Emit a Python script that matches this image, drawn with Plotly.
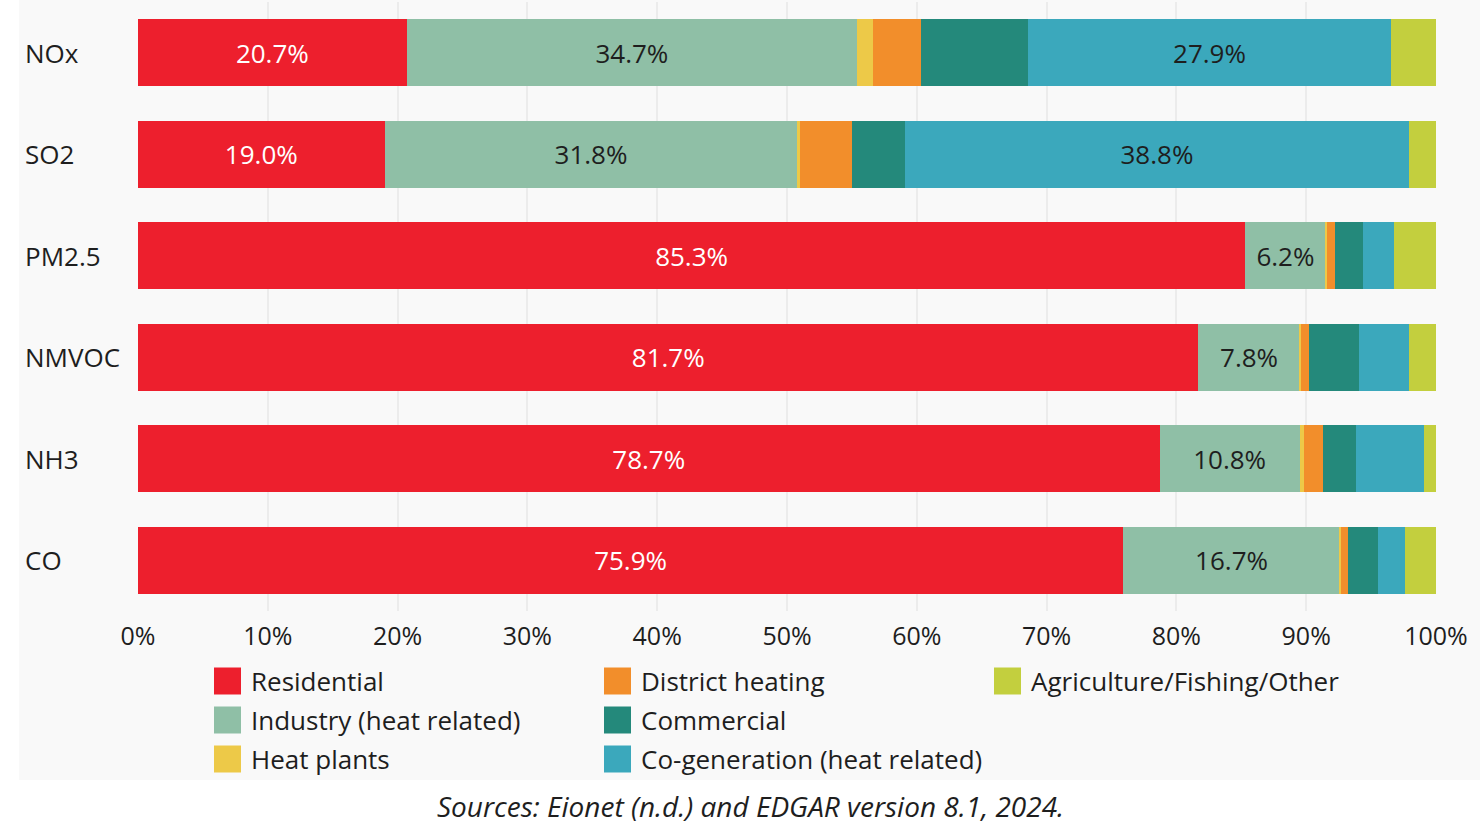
import plotly.graph_objects as go

# ---------------- data ----------------
pollutants = ["NOx", "SO2", "PM2.5", "NMVOC", "NH3", "CO"]
sectors = ["Residential", "Industry (heat related)", "Heat plants",
           "District heating", "Commercial", "Co-generation (heat related)",
           "Agriculture/Fishing/Other"]

residential = [20.7, 19.0, 85.3, 81.7, 78.7, 75.9]
industry = [34.7, 31.8, 6.2, 7.8, 10.8, 16.7]
heat_plants = [1.2, 0.2, 0.1, 0.1, 0.3, 0.1]
district_heating = [3.7, 4.0, 0.6, 0.6, 1.5, 0.5]
commercial = [8.3, 4.1, 2.2, 3.9, 2.5, 2.3]
cogeneration = [27.9, 38.8, 2.4, 3.8, 5.3, 2.1]
agriculture = [3.5, 2.1, 3.2, 2.1, 0.9, 2.4]

residential_labels = ["20.7%", "19.0%", "85.3%", "81.7%", "78.7%", "75.9%"]
industry_labels = ["34.7%", "31.8%", "6.2%", "7.8%", "10.8%", "16.7%"]
cogeneration_labels = ["27.9%", "38.8%", "", "", "", ""]

tick_vals = [0, 10, 20, 30, 40, 50, 60, 70, 80, 90, 100]
tick_text = ["0%", "10%", "20%", "30%", "40%", "50%", "60%", "70%", "80%", "90%", "100%"]

source_text = "Sources: Eionet (n.d.) and EDGAR version 8.1, 2024."

# ---------------- style ----------------
colors = ["#ED1F2D", "#8FBFA6", "#EDC948", "#F28E2B", "#24897B", "#3BA8BC", "#C3CF3E"]
label_colors = ["white", "#1e1e1e", "#1e1e1e", "#1e1e1e", "#1e1e1e", "#1e1e1e", "#1e1e1e"]
FONT = "Open Sans, Noto Sans, sans-serif"
TXT = "#1e1e1e"

W, H = 1483, 839
L, R = 138, 1436          # plot area x pixels
T, B = 2, 611             # plot area y pixels


def px(x):
    return (x - L) / (R - L)


def py(y):
    return (B - y) / (B - T)


values = [residential, industry, heat_plants, district_heating,
          commercial, cogeneration, agriculture]
texts = [residential_labels, industry_labels, None, None, None,
         cogeneration_labels, None]

fig = go.Figure()
for name, vals, col, txt, tcol in zip(sectors, values, colors, texts, label_colors):
    fig.add_trace(go.Bar(
        y=pollutants, x=vals, name=name, orientation="h",
        marker=dict(color=col, line=dict(width=0)),
        text=txt if txt is not None else None,
        texttemplate="%{text}" if txt is not None else None,
        textposition="inside" if txt is not None else "none",
        insidetextanchor="middle",
        textangle=0,
        textfont=dict(family=FONT, size=26, color=tcol),
        showlegend=False,
        hoverinfo="skip",
    ))

shapes = []
annotations = []

# light panel background
shapes.append(dict(type="rect", xref="paper", yref="paper",
                   x0=px(19), x1=px(1480), y0=py(780), y1=py(0),
                   fillcolor="#f9f9f9", line=dict(width=0), layer="below"))

# category labels
for p in pollutants:
    annotations.append(dict(x=px(23), y=p, xref="paper", yref="y",
                            text=p, showarrow=False, xanchor="left",
                            yanchor="middle",
                            font=dict(family=FONT, size=26, color=TXT)))

# legend (3 columns, column-major)
col_x = [214, 604, 994]
row_y = [681, 720, 759]
for i, (name, col) in enumerate(zip(sectors, colors)):
    c, r = divmod(i, 3)
    x0 = col_x[c]
    yc = row_y[r]
    shapes.append(dict(type="rect", xref="paper", yref="paper",
                       x0=px(x0), x1=px(x0 + 27), y0=py(yc + 13.5), y1=py(yc - 13.5),
                       fillcolor=col, line=dict(width=0)))
    annotations.append(dict(x=px(x0 + 35), y=py(yc), xref="paper", yref="paper",
                            text=name, showarrow=False, xanchor="left",
                            yanchor="middle",
                            font=dict(family=FONT, size=26, color=TXT)))

# source
annotations.append(dict(x=px(750), y=py(806), xref="paper", yref="paper",
                        text="<i>" + source_text + "</i>", showarrow=False,
                        xanchor="center", yanchor="middle",
                        font=dict(family=FONT, size=28, color=TXT)))

fig.update_layout(
    width=W, height=H,
    margin=dict(l=L, r=W - R, t=T, b=H - B, pad=0),
    barmode="stack", bargap=0.34,
    paper_bgcolor="white", plot_bgcolor="#f9f9f9",
    font=dict(family=FONT, size=24, color=TXT),
    shapes=shapes, annotations=annotations,
    showlegend=False,
    xaxis=dict(range=[0, 100], tickvals=tick_vals, ticktext=tick_text,
               showgrid=True, gridcolor="#ececec", gridwidth=2,
               zeroline=False, showline=False, ticks="",
               ticklabelstandoff=8,
               tickfont=dict(family=FONT, size=25, color=TXT), fixedrange=True),
    yaxis=dict(autorange="reversed", showticklabels=False, showgrid=False,
               zeroline=False, showline=False, ticks="", fixedrange=True),
)

fig.write_html("out.html")
